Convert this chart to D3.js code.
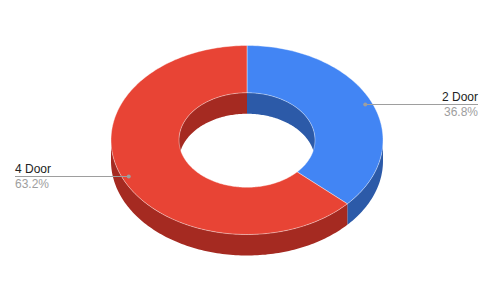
<!DOCTYPE html>
<html>
<head>
<meta charset="utf-8">
<script src="https://cdn.jsdelivr.net/npm/d3@7"></script>
<style>
  html, body { margin: 0; padding: 0; background: #fff; }
  svg { display: block; font-family: Arial, "Liberation Sans", sans-serif; }
</style>
</head>
<body>
<div id="chart"></div>
<script>
// door type share (percent)
const categories = ["2 Door", "4 Door"];
const values = [36.8, 63.2];
const topColors = ["#4285f4", "#e84435"];
const sideColors = ["#2c5aa8", "#a52a21"];

const width = 494, height = 302;
const cx = 247, cy = 140;
const rx = 136, ry = 94.5;   // outer ellipse of the top face
const hole = 0.5;            // inner radius fraction
const depth = 21;

const svg = d3.select("#chart").append("svg")
  .attr("width", width)
  .attr("height", height);

const total = d3.sum(values);
const data = categories.map((c, i) => ({ name: c, value: values[i], i: i }));
const arcs = d3.pie().sort(null).value(d => d.value)(data);

// projection of (radius fraction, angle from 12 o'clock clockwise) on the tilted plane
const pt = (r, a, dy) => [cx + rx * r * Math.sin(a), cy - ry * r * Math.cos(a) + (dy || 0)];

function arcPts(r, a0, a1, dy) {
  const n = Math.max(2, Math.ceil(Math.abs(a1 - a0) / 0.02));
  return d3.range(n + 1).map(k => pt(r, a0 + (a1 - a0) * k / n, dy));
}

const line = d3.line();
const closed = pts => line(pts) + "Z";

function clip(a0, a1, lo, hi) {
  const s = Math.max(a0, lo), e = Math.min(a1, hi);
  return s < e ? [s, e] : null;
}

function wall(r, a0, a1) {
  const top = arcPts(r, a0, a1, 0);
  const bot = arcPts(r, a1, a0, depth);
  return closed(top.concat(bot));
}

const T = 2 * Math.PI;

// inner walls of the hole (far half only)
const gInner = svg.append("g");
arcs.forEach(d => {
  [[-Math.PI / 2, Math.PI / 2], [1.5 * Math.PI, 2.5 * Math.PI]].forEach(([lo, hi]) => {
    const c = clip(d.startAngle, d.endAngle, lo, hi);
    if (c) gInner.append("path").attr("d", wall(hole, c[0], c[1])).attr("fill", sideColors[d.data.i]);
  });
});

// outer walls (near half only)
const gOuter = svg.append("g");
arcs.forEach(d => {
  const c = clip(d.startAngle, d.endAngle, Math.PI / 2, 1.5 * Math.PI);
  if (c) gOuter.append("path").attr("d", wall(1, c[0], c[1])).attr("fill", sideColors[d.data.i]);
});

// top faces
svg.append("g").selectAll("path")
  .data(arcs)
  .join("path")
  .attr("d", d => closed(arcPts(1, d.startAngle, d.endAngle).concat(arcPts(hole, d.endAngle, d.startAngle))))
  .attr("fill", d => topColors[d.data.i])
  .attr("stroke", "#ffffff")
  .attr("stroke-opacity", 0.5)
  .attr("stroke-width", 0.8)
  .attr("stroke-linejoin", "round");

// leader lines and labels
const gLab = svg.append("g");
arcs.forEach(d => {
  const mid = (d.startAngle + d.endAngle) / 2;
  const p = pt(0.95, mid);
  const right = Math.sin(mid) > 0;
  const x2 = right ? 478 : 15;
  const y = Math.round(p[1]) + 0.5;
  gLab.append("line")
    .attr("x1", p[0]).attr("y1", y)
    .attr("x2", x2).attr("y2", y)
    .attr("stroke", "#9e9e9e").attr("stroke-width", 1);
  gLab.append("circle")
    .attr("cx", p[0]).attr("cy", y).attr("r", 2)
    .attr("fill", "#9e9e9e");
  gLab.append("text")
    .attr("x", x2).attr("y", y - 4)
    .attr("text-anchor", right ? "end" : "start")
    .attr("font-size", 12).attr("fill", "#222222")
    .text(d.data.name);
  gLab.append("text")
    .attr("x", x2).attr("y", y + 11)
    .attr("text-anchor", right ? "end" : "start")
    .attr("font-size", 12).attr("fill", "#9e9e9e")
    .text(d3.format(".1f")(d.data.value / total * 100) + "%");
});
</script>
</body>
</html>
